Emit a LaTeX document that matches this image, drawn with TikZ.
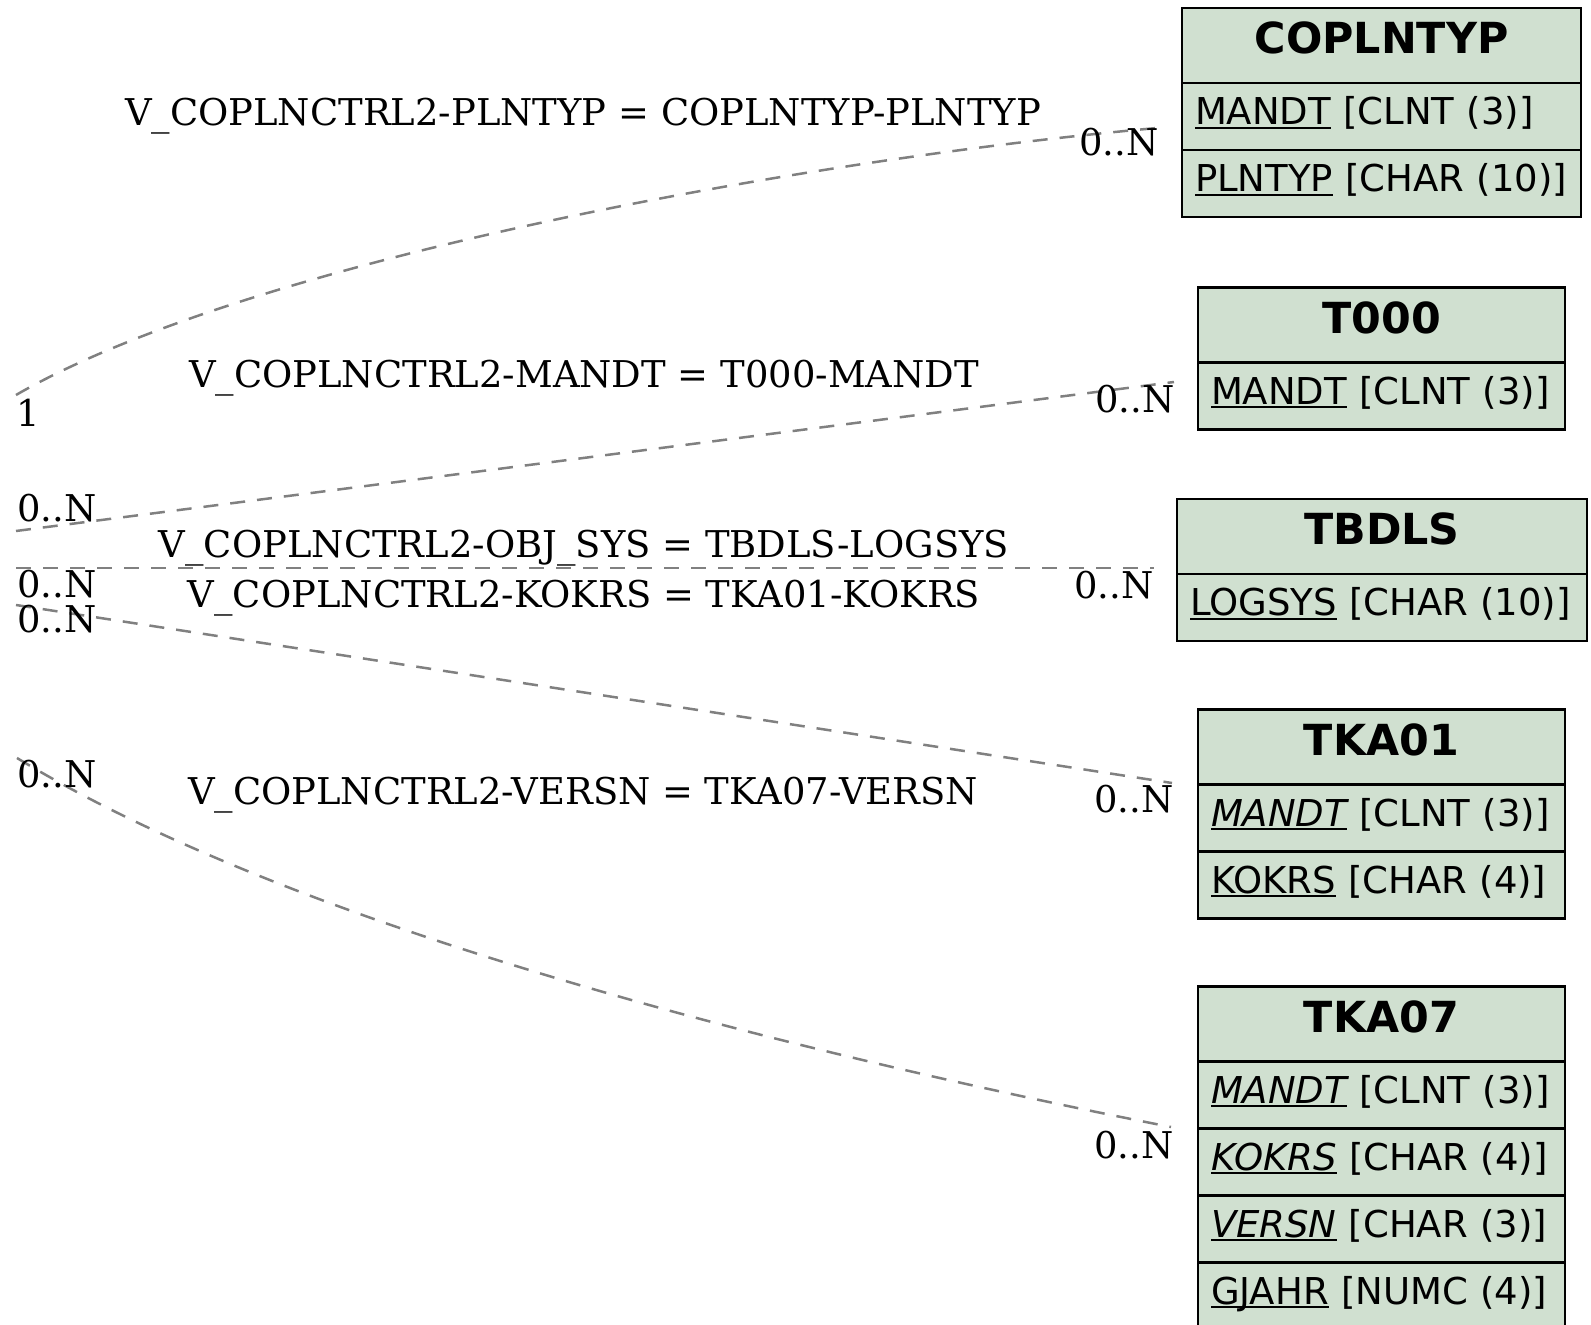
\documentclass[tikz,border=0pt]{standalone}
\usepackage{fontspec}
\setmainfont{DejaVu Serif}
\newfontfamily\tabfont{DejaVu Sans}
\usetikzlibrary{positioning}
\definecolor{tabgreen}{RGB}{208,224,208}
\definecolor{relgray}{RGB}{128,128,128}
\newcommand\fkey[1]{\setbox0\hbox{#1}\rlap{\rule[-1.8pt]{\wd0}{1pt}}\box0\relax}

\begin{document}
\begin{tikzpicture}[x=0.5pt,y=-0.5pt,
tabhead/.style={draw, line width=1.3pt, fill=tabgreen, outer sep=0pt, inner sep=0pt,
  minimum width=#1, minimum height=37.5pt, text height=16pt, text depth=7.5pt,
  font=\tabfont\fontsize{21.4}{25}\selectfont\bfseries},
tabrow/.style={draw, line width=1.3pt, fill=tabgreen, outer sep=0pt, inner xsep=6.5pt,
  inner ysep=0pt, minimum height=33.5pt, text height=14pt, text depth=5.5pt,
  text width=#1, align=left, font=\tabfont\fontsize{18.5}{22}\selectfont},
relline/.style={relgray, line width=1.25pt, dash pattern=on 7.5pt off 6pt},
rellabel/.style={inner sep=0pt, anchor=base, font=\fontsize{18.45}{22}\selectfont},
card/.style={inner sep=0pt, anchor=base west, font=\fontsize{18.45}{22}\selectfont},
]
\useasboundingbox (0,0) rectangle (1591,1325);

% tables
\node[tabhead=199.5pt] (coplntyp) at (1381.5,45.5) {COPLNTYP};
\node[tabrow=186.5pt, below=0pt of coplntyp] (coplntyp-1) {\fkey{MANDT} [CLNT (3)]};
\node[tabrow=186.5pt, below=0pt of coplntyp-1] (coplntyp-2) {\fkey{PLNTYP} [CHAR (10)]};

\node[tabhead=183.5pt] (t000) at (1381.5,325) {T000};
\node[tabrow=170.5pt, below=0pt of t000] (t000-1) {\fkey{MANDT} [CLNT (3)]};

\node[tabhead=205pt] (tbdls) at (1382,536.5) {TBDLS};
\node[tabrow=192pt, below=0pt of tbdls] (tbdls-1) {\fkey{LOGSYS} [CHAR (10)]};

\node[tabhead=183.5pt] (tka01) at (1381.5,747) {TKA01};
\node[tabrow=170.5pt, below=0pt of tka01] (tka01-1) {\fkey{\itshape MANDT} [CLNT (3)]};
\node[tabrow=170.5pt, below=0pt of tka01-1] (tka01-2) {\fkey{KOKRS} [CHAR (4)]};

\node[tabhead=183.5pt] (tka07) at (1381.5,1024) {TKA07};
\node[tabrow=170.5pt, below=0pt of tka07] (tka07-1) {\fkey{\itshape MANDT} [CLNT (3)]};
\node[tabrow=170.5pt, below=0pt of tka07-1] (tka07-2) {\fkey{\itshape KOKRS} [CHAR (4)]};
\node[tabrow=170.5pt, below=0pt of tka07-2] (tka07-3) {\fkey{\itshape VERSN} [CHAR (3)]};
\node[tabrow=170.5pt, below=0pt of tka07-3] (tka07-4) {\fkey{GJAHR} [NUMC (4)]};

% end points of the relations
\coordinate (plntyp-a) at (16,395);
\coordinate (plntyp-b) at (1157,128);
\coordinate (mandt-a) at (16,531);
\coordinate (mandt-b) at (1174,382);
\coordinate (objsys-a) at (16,568);
\coordinate (objsys-b) at (1154,568);
\coordinate (kokrs-a) at (16,605);
\coordinate (kokrs-b) at (1172,783);
\coordinate (versn-a) at (17,758);
\coordinate (versn-b) at (1171,1127);

\draw[relline] (plntyp-a) .. controls (250,260) and (800,160) .. (plntyp-b);
\draw[relline] (mandt-a) -- (mandt-b);
\draw[relline] (objsys-a) -- (objsys-b);
\draw[relline] (kokrs-a) -- (kokrs-b);
\draw[relline] (versn-a) .. controls (300,930) and (800,1054) .. (versn-b);

% relation labels
\node[rellabel] (l-plntyp) at (583,126) {V\_COPLNCTRL2-PLNTYP = COPLNTYP-PLNTYP};
\node[rellabel] (l-mandt) at (584,388) {V\_COPLNCTRL2-MANDT = T000-MANDT};
\node[rellabel] (l-objsys) at (584,558) {V\_COPLNCTRL2-OBJ\_SYS = TBDLS-LOGSYS};
\node[rellabel] (l-kokrs) at (584,608) {V\_COPLNCTRL2-KOKRS = TKA01-KOKRS};
\node[rellabel] (l-versn) at (583,805) {V\_COPLNCTRL2-VERSN = TKA07-VERSN};

% cardinalities
\node[card] (c-plntyp-a) at (16,427) {1};
\node[card] (c-plntyp-b) at (1079,156) {0..N};
\node[card] (c-mandt-a) at (17,522) {0..N};
\node[card] (c-mandt-b) at (1095,413) {0..N};
\node[card] (c-objsys-a) at (17,598) {0..N};
\node[card] (c-objsys-b) at (1074,599) {0..N};
\node[card] (c-kokrs-a) at (17,633) {0..N};
\node[card] (c-kokrs-b) at (1094,813) {0..N};
\node[card] (c-versn-a) at (17,788) {0..N};
\node[card] (c-versn-b) at (1094,1158) {0..N};
\end{tikzpicture}
\end{document}
